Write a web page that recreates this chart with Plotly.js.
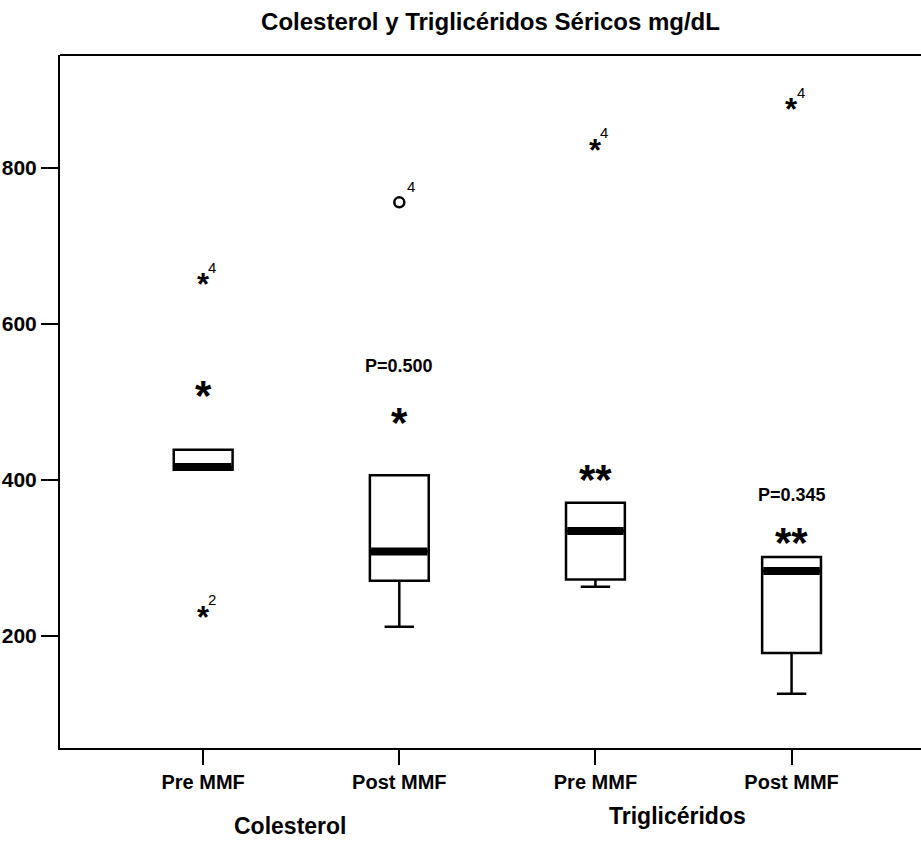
<!DOCTYPE html>
<html>
<head>
<meta charset="utf-8">
<script src="https://cdn.plot.ly/plotly-3.0.1.min.js"></script>
<style>
  html, body { margin: 0; padding: 0; background: #fff; }
  #chart { width: 921px; height: 844px; }
</style>
</head>
<body>
<div id="chart"></div>
<script>
// Groups along the x axis
const groupLabels = ["Pre MMF", "Post MMF", "Pre MMF", "Post MMF"];
const variableNames = ["Colesterol", "Triglicéridos"];
const yTicks = [200, 400, 600, 800];

// Box statistics (mg/dL)
const q1 = [413, 270.5, 272, 178];
const medians = [416.5, 308, 334.5, 283];
const q3 = [438.5, 406, 370.5, 301];
const lowerFence = [413, 211.5, 263, 125.5];
const upperFence = [438.5, 406, 370.5, 301];

// Extreme values (drawn as asterisks); repeated values stack as "**"
const extremeGroup = [0, 1, 2, 2, 3, 3];
const extremeValue = [514, 479.5, 406, 406, 325.5, 325.5];

// Labelled extreme values with case number
const labelledGroup = [0, 0, 2, 3];
const labelledValue = [654, 228, 827, 879.5];
const labelledCase = ["4", "2", "4", "4"];

// Outliers (circles) with case number
const outlierGroup = [1];
const outlierValue = [756];
const outlierCase = ["4"];

// P values
const pGroup = [1, 3];
const pValue = [546, 381];
const pText = ["P=0.500", "P=0.345"];

const FONT = "Liberation Sans, Arial, Helvetica, sans-serif";
const BOX_W = 0.3;
const BIG_STAR = 42;
const SMALL_STAR = 31;
// the "*" glyph sits off the centre of its text line; pull it back onto the value
const GLYPH_LIFT = 0.1;

// Collapse repeated extreme values into a single "**" mark
const stacked = {};
extremeGroup.forEach((g, i) => {
  const key = g + "|" + extremeValue[i];
  if (!stacked[key]) stacked[key] = { x: g, y: extremeValue[i], n: 0 };
  stacked[key].n += 1;
});
const stackedMarks = Object.values(stacked);

const traces = [];

traces.push({
  type: "box",
  x: [0, 1, 2, 3],
  q1: q1, median: medians, q3: q3,
  lowerfence: lowerFence, upperfence: upperFence,
  width: BOX_W,
  whiskerwidth: 0.5,
  fillcolor: "#ffffff",
  line: { color: "#000000", width: 2.5 },
  boxpoints: false,
  hoverinfo: "skip",
  showlegend: false
});

// Thick median bars
medians.forEach((m, i) => {
  traces.push({
    type: "scatter", mode: "lines",
    x: [i - BOX_W / 2 + 0.006, i + BOX_W / 2 - 0.006], y: [m, m],
    line: { color: "#000000", width: 8 },
    hoverinfo: "skip", showlegend: false
  });
});

// Outlier circles
traces.push({
  type: "scatter", mode: "markers",
  x: outlierGroup, y: outlierValue,
  marker: { symbol: "circle-open", size: 10, color: "#000", line: { width: 2.5, color: "#000" } },
  hoverinfo: "skip", showlegend: false
});

const annotations = [];

// Extreme values as asterisks
stackedMarks.forEach(d => {
  annotations.push({
    x: d.x, y: d.y, xref: "x", yref: "y",
    text: "*".repeat(d.n), showarrow: false,
    xanchor: "center", yanchor: "middle",
    yshift: -GLYPH_LIFT * BIG_STAR,
    font: { family: FONT, size: BIG_STAR, color: "#000", weight: "bold" }
  });
});
labelledGroup.forEach((g, i) => {
  annotations.push({
    x: g, y: labelledValue[i], xref: "x", yref: "y",
    text: "*", showarrow: false,
    xanchor: "center", yanchor: "middle",
    yshift: -GLYPH_LIFT * SMALL_STAR,
    font: { family: FONT, size: SMALL_STAR, color: "#000", weight: "bold" }
  });
  annotations.push({
    x: g, y: labelledValue[i], xref: "x", yref: "y",
    text: labelledCase[i], showarrow: false,
    xanchor: "center", yanchor: "middle",
    xshift: 9, yshift: 14,
    font: { family: FONT, size: 15, color: "#000" }
  });
});
outlierGroup.forEach((g, i) => {
  annotations.push({
    x: g, y: outlierValue[i], xref: "x", yref: "y",
    text: outlierCase[i], showarrow: false,
    xanchor: "center", yanchor: "middle",
    xshift: 12, yshift: 16,
    font: { family: FONT, size: 15, color: "#000" }
  });
});

pGroup.forEach((g, i) => {
  annotations.push({
    x: g, y: pValue[i], xref: "x", yref: "y",
    text: pText[i], showarrow: false,
    font: { family: FONT, size: 18, color: "#000", weight: "bold" }
  });
});

annotations.push({
  x: 0.443, y: -0.112, xref: "x", yref: "paper",
  text: variableNames[0], showarrow: false, yanchor: "middle",
  font: { family: FONT, size: 23, color: "#000", weight: "bold" }
});
annotations.push({
  x: 2.42, y: -0.098, xref: "x", yref: "paper",
  text: variableNames[1], showarrow: false, yanchor: "middle",
  font: { family: FONT, size: 23, color: "#000", weight: "bold" }
});

const layout = {
  width: 921, height: 844,
  margin: { l: 60, r: 0, t: 55, b: 96 },
  paper_bgcolor: "#ffffff",
  plot_bgcolor: "#ffffff",
  showlegend: false,
  title: {
    text: "Colesterol y Triglicéridos Séricos mg/dL",
    x: 0.5, xref: "paper", xanchor: "center",
    y: 0.975, yanchor: "middle",
    font: { family: FONT, size: 24, color: "#000", weight: "bold" }
  },
  xaxis: {
    range: [-0.73, 3.66],
    tickvals: [0, 1, 2, 3],
    ticktext: groupLabels,
    ticks: "outside", ticklen: 15, tickwidth: 2, tickcolor: "#000",
    showline: true, linecolor: "#000", linewidth: 2,
    showgrid: false, zeroline: false,
    tickfont: { family: FONT, size: 20, color: "#000", weight: "bold" }
  },
  yaxis: {
    range: [56, 945],
    tickvals: yTicks,
    ticks: "outside", ticklen: 17, tickwidth: 2, tickcolor: "#000",
    showline: true, linecolor: "#000", linewidth: 2,
    showgrid: false, zeroline: false,
    tickfont: { family: FONT, size: 21, color: "#000", weight: "bold" }
  },
  shapes: [{
    type: "line", xref: "paper", yref: "paper",
    x0: 0, x1: 1, y0: 1, y1: 1,
    line: { color: "#000", width: 2 }
  }],
  annotations: annotations
};

Plotly.newPlot("chart", traces, layout, { displayModeBar: false, staticPlot: true });
</script>
</body>
</html>
